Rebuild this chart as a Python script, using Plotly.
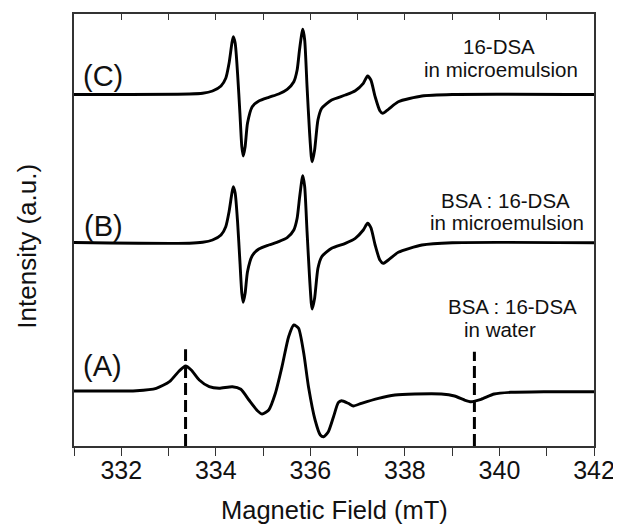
import plotly.graph_objects as go

# ---------------- data ----------------
field_c = [331.0, 333.44, 333.72, 333.93, 334.11, 334.21, 334.28, 334.34, 334.37, 334.41,
           334.46, 334.51, 334.55, 334.58, 334.62, 334.67, 334.77, 334.91, 335.12, 335.33,
           335.51, 335.65, 335.72, 335.77, 335.82, 335.84, 335.88, 335.93, 335.98, 336.02,
           336.04, 336.09, 336.16, 336.24, 336.45, 336.74, 336.95, 337.12, 337.21, 337.28,
           337.37, 337.47, 337.53, 337.65, 337.86, 338.36, 339.0, 342.0]
int_c = [351.5, 352, 352.7, 355, 360, 367.7, 382.7, 402.7, 409.3, 402.7,
         372.7, 332.7, 299.3, 290, 299.3, 322.7, 339.3, 345, 348.7, 352,
         356.7, 364.3, 376, 396, 412.7, 416.7, 406, 359.3, 316, 289.3,
         284.3, 296, 326, 337.7, 346, 351, 355.3, 362.7, 370, 366,
         349.3, 335.3, 332.7, 336.7, 344.3, 350, 351.5, 351.5]

field_b = [331.0, 333.44, 333.72, 333.93, 334.11, 334.21, 334.28, 334.34, 334.37, 334.41,
           334.46, 334.51, 334.55, 334.58, 334.62, 334.67, 334.77, 334.91, 335.12, 335.33,
           335.51, 335.65, 335.72, 335.77, 335.82, 335.84, 335.88, 335.93, 335.98, 336.02,
           336.04, 336.09, 336.16, 336.24, 336.45, 336.74, 336.95, 337.12, 337.21, 337.28,
           337.37, 337.47, 337.54, 337.65, 337.86, 338.36, 339.0, 342.0]
int_b = [203.5, 202.7, 203.7, 206, 211, 219.3, 234.3, 252.7, 259.3, 252.7,
         224.3, 184.3, 152.7, 143.7, 152.7, 174.3, 190.3, 197, 201, 204.3,
         208.3, 216, 227.7, 247.7, 266, 270.3, 259.3, 214.3, 171, 142.7,
         137, 147.7, 177.7, 189.3, 197.7, 202.7, 207.7, 216, 222.7, 218.3,
         201, 186, 182.7, 186, 193.7, 201, 203.3, 203.3]

field_a = [331.0, 331.62, 332.32, 332.74, 333.02, 333.23, 333.36, 333.48, 333.65, 333.86,
           334.07, 334.35, 334.53, 334.70, 334.88, 334.98, 335.12, 335.26, 335.40, 335.54,
           335.65, 335.75, 335.86, 335.96, 336.10, 336.21, 336.28, 336.38, 336.49, 336.59,
           336.66, 336.80, 336.91, 337.08, 337.44, 337.79, 338.21, 338.77, 339.05, 339.26,
           339.40, 339.61, 339.89, 340.24, 340.94, 342.0]
int_a = [55, 55, 55.3, 57.7, 64.3, 75.3, 80, 76, 66, 59.3,
         57.7, 59.3, 56.7, 46, 35.3, 32, 36, 52.7, 79.3, 109.3,
         121, 117.7, 92.7, 59.3, 26, 11, 9.3, 14.3, 29.3, 43.3,
         45.3, 42.7, 40, 42.7, 47.7, 51, 52, 52, 50, 46,
         44.3, 46.7, 52, 53.7, 54.3, 54.3]

dash_fields = [333.36, 339.47]
dash_tops = [96.7, 94.3]

x_ticks = [332, 334, 336, 338, 340, 342]
x_range = [331, 342]
y_range = [0, 432]

FONT = "Liberation Sans, Arial, sans-serif"
INK = "#111111"

fig = go.Figure()
for fx, iy in [(field_c, int_c), (field_b, int_b), (field_a, int_a)]:
    fig.add_trace(go.Scatter(x=fx, y=iy, mode="lines",
                             line=dict(color="black", width=2.9, shape="spline", smoothing=0.6),
                             hoverinfo="skip", showlegend=False))

for xv, top in zip(dash_fields, dash_tops):
    fig.add_trace(go.Scatter(x=[xv, xv], y=[y_range[0], top], mode="lines", xaxis="x2",
                             line=dict(color="black", width=3, dash="12px,5px"),
                             hoverinfo="skip", showlegend=False))

ann = []
def label(x, y, text, size):
    ann.append(dict(x=x, y=y, xref="x", yref="y", text=text, showarrow=False,
                    xanchor="center", yanchor="middle",
                    font=dict(family=FONT, size=size, color=INK)))

label(331.61, 370, "(C)", 29)
label(331.63, 220, "(B)", 29)
label(331.61, 80, "(A)", 29)
label(339.99, 400, "16-DSA", 20.5)
label(340.03, 377, "in microemulsion", 20.5)
label(340.13, 246, "BSA : 16-DSA", 20.5)
label(340.15, 223.5, "in microemulsion", 20.5)
label(340.27, 140, "BSA : 16-DSA", 20.5)
label(340.02, 117, "in water", 20.5)

ann.append(dict(x=0.5, y=-0.147, xref="paper", yref="paper", text="Magnetic Field (mT)",
                showarrow=False, xanchor="center", yanchor="middle",
                font=dict(family=FONT, size=25.5, color=INK)))
ann.append(dict(x=-0.0899, y=0.462, xref="paper", yref="paper", text="Intensity (a.u.)",
                showarrow=False, xanchor="center", yanchor="middle", textangle=-90,
                font=dict(family=FONT, size=26, color=INK)))

axis_line = dict(showline=True, linecolor="#333333", linewidth=1.5, showgrid=False, zeroline=False)

# the page body has an 8px margin; the figure is sized so the plot lands where the reference has it
fig.update_layout(
    width=613, height=516,
    margin=dict(l=66, r=24, t=6, b=78),
    paper_bgcolor="white", plot_bgcolor="white",
    annotations=ann,
    xaxis=dict(range=x_range, tickvals=x_ticks, ticks="outside", ticklen=8, tickwidth=1.3,
               tickcolor="#333333", ticklabelstandoff=-7,
               minor=dict(dtick=1, ticks="outside", ticklen=8, tickwidth=1.3, tickcolor="#333333"),
               tickfont=dict(family=FONT, size=25, color=INK), **axis_line),
    xaxis2=dict(range=x_range, matches="x", overlaying="x", side="top", anchor="y",
                tickvals=x_ticks, ticks="inside", ticklen=6, tickwidth=1.3, tickcolor="#333333",
                minor=dict(dtick=1, ticks="inside", ticklen=6, tickwidth=1.3, tickcolor="#333333"),
                showticklabels=False, **axis_line),
    yaxis=dict(range=y_range, ticks="", showticklabels=False, mirror=True, **axis_line),
)

fig.write_html("out.html")
